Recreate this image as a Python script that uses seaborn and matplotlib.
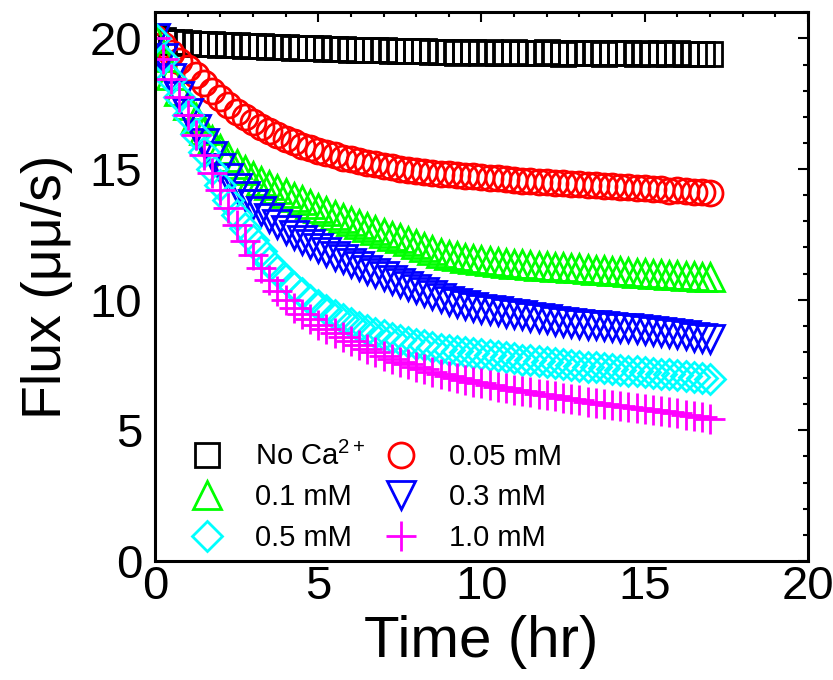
import matplotlib
matplotlib.use("Agg")
import matplotlib.pyplot as plt
from matplotlib.lines import Line2D
from matplotlib.ticker import MultipleLocator
import seaborn as sns
import pandas as pd

# ---------------- data ----------------
time_hr = [0.0, 0.25, 0.5, 0.75, 1.0, 1.25, 1.5, 1.75, 2.0, 2.25, 2.5, 2.75,
           3.0, 3.25, 3.5, 3.75, 4.0, 4.25, 4.5, 4.75, 5.0, 5.25, 5.5, 5.75,
           6.0, 6.25, 6.5, 6.75, 7.0, 7.25, 7.5, 7.75, 8.0, 8.25, 8.5, 8.75,
           9.0, 9.25, 9.5, 9.75, 10.0, 10.25, 10.5, 10.75, 11.0, 11.25, 11.5, 11.75,
           12.0, 12.25, 12.5, 12.75, 13.0, 13.25, 13.5, 13.75, 14.0, 14.25, 14.5, 14.75,
           15.0, 15.25, 15.5, 15.75, 16.0, 16.25, 16.5, 16.75, 17.0]

flux_no_ca = [20.0, 19.92, 19.88, 19.85, 19.82, 19.8, 19.79, 19.77, 19.76, 19.74, 19.73, 19.72,
              19.7, 19.7, 19.68, 19.67, 19.66, 19.65, 19.63, 19.62, 19.62, 19.6, 19.59, 19.58,
              19.57, 19.56, 19.55, 19.55, 19.54, 19.53, 19.52, 19.51, 19.5, 19.5, 19.49, 19.48,
              19.48, 19.45, 19.47, 19.46, 19.44, 19.47, 19.45, 19.43, 19.46, 19.44, 19.45, 19.43,
              19.46, 19.44, 19.42, 19.45, 19.44, 19.43, 19.45, 19.42, 19.44, 19.43, 19.45, 19.41,
              19.44, 19.42, 19.43, 19.4, 19.43, 19.41, 19.42, 19.4, 19.42]

flux_005 = [20.0, 19.75, 19.45, 19.15, 18.85, 18.6, 18.3, 18.0, 17.7, 17.45, 17.2, 17.0,
            16.8, 16.6, 16.45, 16.3, 16.15, 16.02, 15.9, 15.8, 15.7, 15.6, 15.52, 15.44,
            15.37, 15.3, 15.24, 15.18, 15.12, 15.06, 15.0, 14.96, 14.92, 14.88, 14.85, 14.82,
            14.8, 14.77, 14.75, 14.72, 14.7, 14.67, 14.64, 14.61, 14.58, 14.56, 14.54, 14.52,
            14.5, 14.48, 14.46, 14.44, 14.42, 14.4, 14.38, 14.36, 14.34, 14.32, 14.3, 14.28,
            14.26, 14.24, 14.22, 14.16, 14.18, 14.16, 14.14, 14.12, 14.1]

flux_01 = [20.0, 19.3, 18.6, 18.0, 17.45, 16.95, 16.5, 16.1, 15.75, 15.45, 15.2, 14.95,
           14.75, 14.55, 14.38, 14.22, 14.07, 13.93, 13.8, 13.65, 13.52, 13.38, 13.25, 13.12,
           13.0, 12.88, 12.77, 12.66, 12.55, 12.45, 12.35, 12.23, 12.12, 12.01, 11.9, 11.8,
           11.72, 11.66, 11.6, 11.55, 11.5, 11.47, 11.43, 11.4, 11.37, 11.35, 11.32, 11.3,
           11.28, 11.26, 11.24, 11.22, 11.2, 11.17, 11.15, 11.12, 11.1, 11.08, 11.06, 11.04,
           11.02, 10.99, 10.97, 10.95, 10.93, 10.91, 10.89, 10.87, 10.85]

flux_03 = [20.0, 19.25, 18.5, 17.8, 17.15, 16.55, 16.0, 15.5, 15.05, 14.65, 14.28, 13.95,
           13.65, 13.38, 13.13, 12.9, 12.68, 12.48, 12.3, 12.13, 11.97, 11.82, 11.68, 11.54,
           11.41, 11.28, 11.15, 11.02, 10.89, 10.76, 10.64, 10.52, 10.4, 10.28, 10.17, 10.06,
           9.96, 9.87, 9.79, 9.72, 9.65, 9.6, 9.55, 9.5, 9.45, 9.4, 9.35, 9.3,
           9.25, 9.2, 9.16, 9.12, 9.08, 9.05, 9.02, 8.99, 8.96, 8.93, 8.9, 8.87,
           8.84, 8.8, 8.76, 8.72, 8.68, 8.64, 8.59, 8.55, 8.5]

flux_05 = [20.0, 19.2, 18.45, 17.75, 17.05, 16.35, 15.65, 15.0, 14.4, 13.8, 13.25, 12.75,
           12.28, 11.85, 11.45, 11.1, 10.78, 10.5, 10.24, 10.0, 9.8, 9.6, 9.42, 9.26,
           9.1, 8.97, 8.85, 8.74, 8.64, 8.55, 8.47, 8.39, 8.32, 8.25, 8.19, 8.13,
           8.07, 8.03, 7.99, 7.95, 7.91, 7.87, 7.83, 7.79, 7.75, 7.71, 7.68, 7.64,
           7.61, 7.57, 7.54, 7.5, 7.47, 7.44, 7.41, 7.38, 7.35, 7.32, 7.29, 7.26,
           7.23, 7.2, 7.17, 7.14, 7.11, 7.08, 7.05, 7.01, 6.97]

flux_10 = [20.0, 19.2, 18.45, 17.75, 17.05, 16.3, 15.55, 14.85, 14.2, 13.5, 12.85, 12.25,
           11.7, 11.2, 10.75, 10.35, 10.0, 9.7, 9.45, 9.25, 9.05, 8.88, 8.72, 8.57,
           8.42, 8.27, 8.12, 7.98, 7.85, 7.73, 7.62, 7.52, 7.42, 7.33, 7.24, 7.16,
           7.08, 7.0, 6.93, 6.86, 6.8, 6.73, 6.67, 6.61, 6.55, 6.5, 6.45, 6.4,
           6.35, 6.3, 6.25, 6.2, 6.15, 6.1, 6.06, 6.02, 5.98, 5.94, 5.9, 5.86,
           5.82, 5.78, 5.74, 5.7, 5.65, 5.6, 5.55, 5.5, 5.44]

labels = ["No Ca$^{2+}$", "0.05 mM", "0.1 mM", "0.3 mM", "0.5 mM", "1.0 mM"]
series = [flux_no_ca, flux_005, flux_01, flux_03, flux_05, flux_10]

x_ticks = [0, 5, 10, 15, 20]
y_ticks = [0, 5, 10, 15, 20]

# ---------------- style ----------------
colors = ["#000000", "#FF0000", "#00FF00", "#0000FF", "#00FFFF", "#FF00FF"]
markers = ["s", "o", "^", "v", "D", "+"]
msizes = [17, 18, 20, 20, 15.5, 21]

sns.set_style("white")
plt.rcParams["font.family"] = ["Liberation Sans", "DejaVu Sans"]
plt.rcParams["mathtext.fontset"] = "custom"
plt.rcParams["mathtext.rm"] = "Liberation Sans"
plt.rcParams["mathtext.it"] = "Liberation Sans"
plt.rcParams["mathtext.default"] = "regular"
plt.rcParams["text.color"] = "black"
plt.rcParams["axes.labelcolor"] = "black"
plt.rcParams["xtick.color"] = "black"
plt.rcParams["ytick.color"] = "black"

fig = plt.figure(figsize=(8.33, 6.8), dpi=100)
ax = fig.add_axes([0.186, 0.175, 0.784, 0.807])

frames = []
for lab, vals in zip(labels, series):
    frames.append(pd.DataFrame({"time": time_hr, "flux": vals, "group": lab}))
df = pd.concat(frames, ignore_index=True)

handles = {}
for lab, c, m, ms in zip(labels, colors, markers, msizes):
    sub = df[df["group"] == lab]
    sns.lineplot(data=sub, x="time", y="flux", ax=ax, estimator=None,
                 linestyle="", marker=m, markersize=ms,
                 markerfacecolor="none", markeredgecolor=c, color=c,
                 markeredgewidth=2.0, legend=False)
    handles[lab] = Line2D([], [], linestyle="", marker=m, markersize=ms,
                          markerfacecolor="none", markeredgecolor=c,
                          markeredgewidth=2.0)

ax.set_xlim(0, 20)
ax.set_ylim(0, 21)
ax.set_xticks(x_ticks)
ax.set_yticks(y_ticks)
ax.xaxis.set_minor_locator(MultipleLocator(1))
ax.yaxis.set_minor_locator(MultipleLocator(1))
ax.tick_params(which="both", direction="in", top=True, right=True, width=1.5,
               colors="black")
ax.tick_params(which="major", length=7)
ax.tick_params(which="minor", length=3.5)
ax.tick_params(axis="x", labelsize=34, pad=3)
ax.tick_params(axis="y", labelsize=34, pad=9)
for sp in ax.spines.values():
    sp.set_linewidth(2.2)
    sp.set_color("black")

ax.set_xlabel("Time (hr)", fontsize=42, labelpad=4, color="black")
ax.set_ylabel("Flux (μμ/s)", fontsize=40, labelpad=12, color="black")

order = ["No Ca$^{2+}$", "0.1 mM", "0.5 mM", "0.05 mM", "0.3 mM", "1.0 mM"]
leg = ax.legend([handles[k] for k in order], order, ncol=2, frameon=False,
                fontsize=21, loc="lower left", bbox_to_anchor=(0.022, -0.015),
                handlelength=1.4, handletextpad=0.95, columnspacing=0.5,
                labelspacing=0.42, borderaxespad=0.2)
for t in leg.get_texts():
    t.set_color("black")

fig.savefig("out.png", dpi=100)
